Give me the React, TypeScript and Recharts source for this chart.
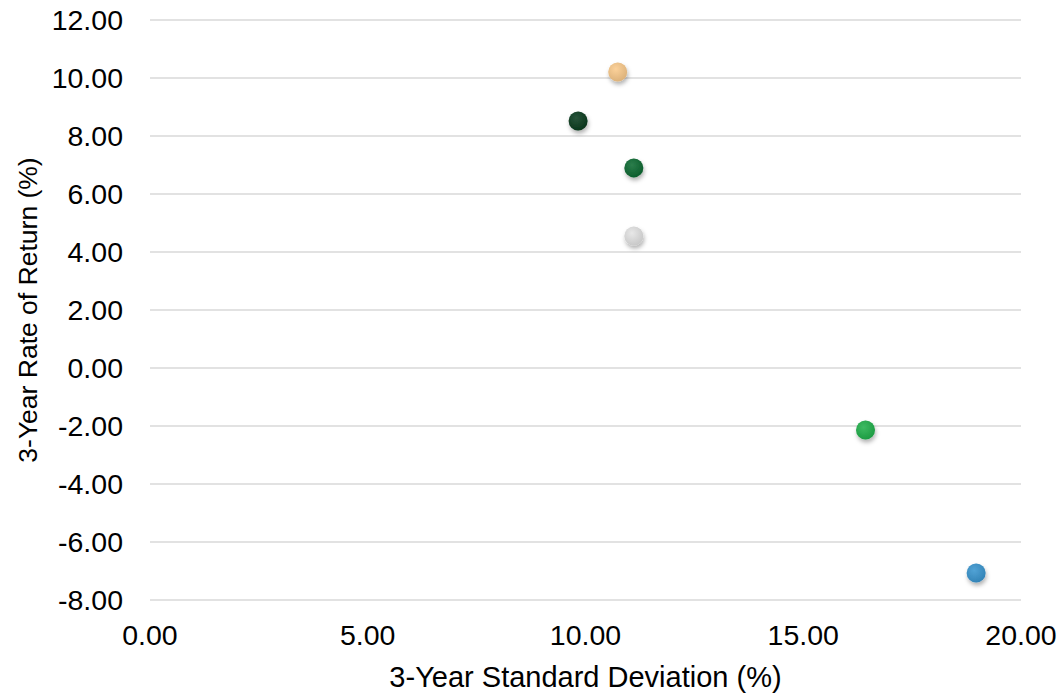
import { ScatterChart, Scatter, XAxis, YAxis, CartesianGrid, Cell } from "recharts";

const stdDev = [10.74, 9.83, 11.11, 11.11, 16.43, 18.97];
const returns = [10.21, 8.52, 6.9, 4.55, -2.14, -7.07];
const pointColors = ["#FBCB8C", "#0B3D1F", "#0E6B33", "#E4E4E4", "#22B14C", "#3A96D0"];
const xTicks = [0, 5, 10, 15, 20];
const yTicks = [-8, -6, -4, -2, 0, 2, 4, 6, 8, 10, 12];

const data = stdDev.map((x, i) => ({ x, y: returns[i] }));

const FONT = "'Liberation Sans', Arial, sans-serif";
const tickStyle = { fontSize: 28.5, fill: "#000", fontFamily: FONT };
const titleStyle = { fontSize: 29, fill: "#000", fontFamily: FONT };

const Dot = (props: any) => {
    const { cx, cy, fill } = props;
    if (cx == null || cy == null) return null;
    return (
        <g filter="url(#dotShadow)">
            <circle cx={cx} cy={cy} r={9.5} fill={fill} />
            <circle cx={cx} cy={cy} r={9.5} fill="url(#dotShine)" />
        </g>
    );
};

export default function App() {
    return (
        <div style={{ position: "absolute", left: 0, top: 0, width: 1061, height: 697, background: "#fff" }}>
            <ScatterChart width={1061} height={697} margin={{ top: 20, right: 40, bottom: 0, left: 0 }}>
                <defs>
                    <filter id="dotShadow" x="-50%" y="-50%" width="200%" height="200%">
                        <feDropShadow dx="1" dy="3" stdDeviation="2" floodColor="#000" floodOpacity="0.3" />
                    </filter>
                    <radialGradient id="dotShine" cx="40%" cy="35%" r="65%">
                        <stop offset="0%" stopColor="#fff" stopOpacity="0.12" />
                        <stop offset="100%" stopColor="#000" stopOpacity="0.12" />
                    </radialGradient>
                </defs>
                <CartesianGrid vertical={false} stroke="#d9d9d9" strokeWidth={1.5} />
                <XAxis
                    type="number"
                    dataKey="x"
                    domain={[0, 20]}
                    ticks={xTicks}
                    tickFormatter={(v) => v.toFixed(2)}
                    axisLine={false}
                    tickLine={false}
                    tickSize={0}
                    tickMargin={25}
                    height={97}
                    tick={tickStyle}
                    label={{
                        value: "3-Year Standard Deviation (%)",
                        position: "insideBottom",
                        offset: 10,
                        style: titleStyle,
                    }}
                />
                <YAxis
                    type="number"
                    dataKey="y"
                    domain={[-8, 12]}
                    ticks={yTicks}
                    tickFormatter={(v) => v.toFixed(2)}
                    axisLine={false}
                    tickLine={false}
                    tickSize={0}
                    tickMargin={27}
                    width={150}
                    tick={tickStyle}
                    label={{
                        content: ({ viewBox }: any) => {
                            const cy = viewBox.y + viewBox.height / 2;
                            return (
                                <text
                                    x={28}
                                    y={cy}
                                    transform={`rotate(-90, 28, ${cy})`}
                                    textAnchor="middle"
                                    dominantBaseline="central"
                                    style={{ ...titleStyle, fontSize: 26.5 }}
                                >
                                    3-Year Rate of Return (%)
                                </text>
                            );
                        },
                    }}
                />
                <Scatter data={data} shape={Dot} isAnimationActive={false}>
                    {data.map((_, i) => (
                        <Cell key={`pt-${i}`} fill={pointColors[i]} />
                    ))}
                </Scatter>
            </ScatterChart>
        </div>
    );
}
